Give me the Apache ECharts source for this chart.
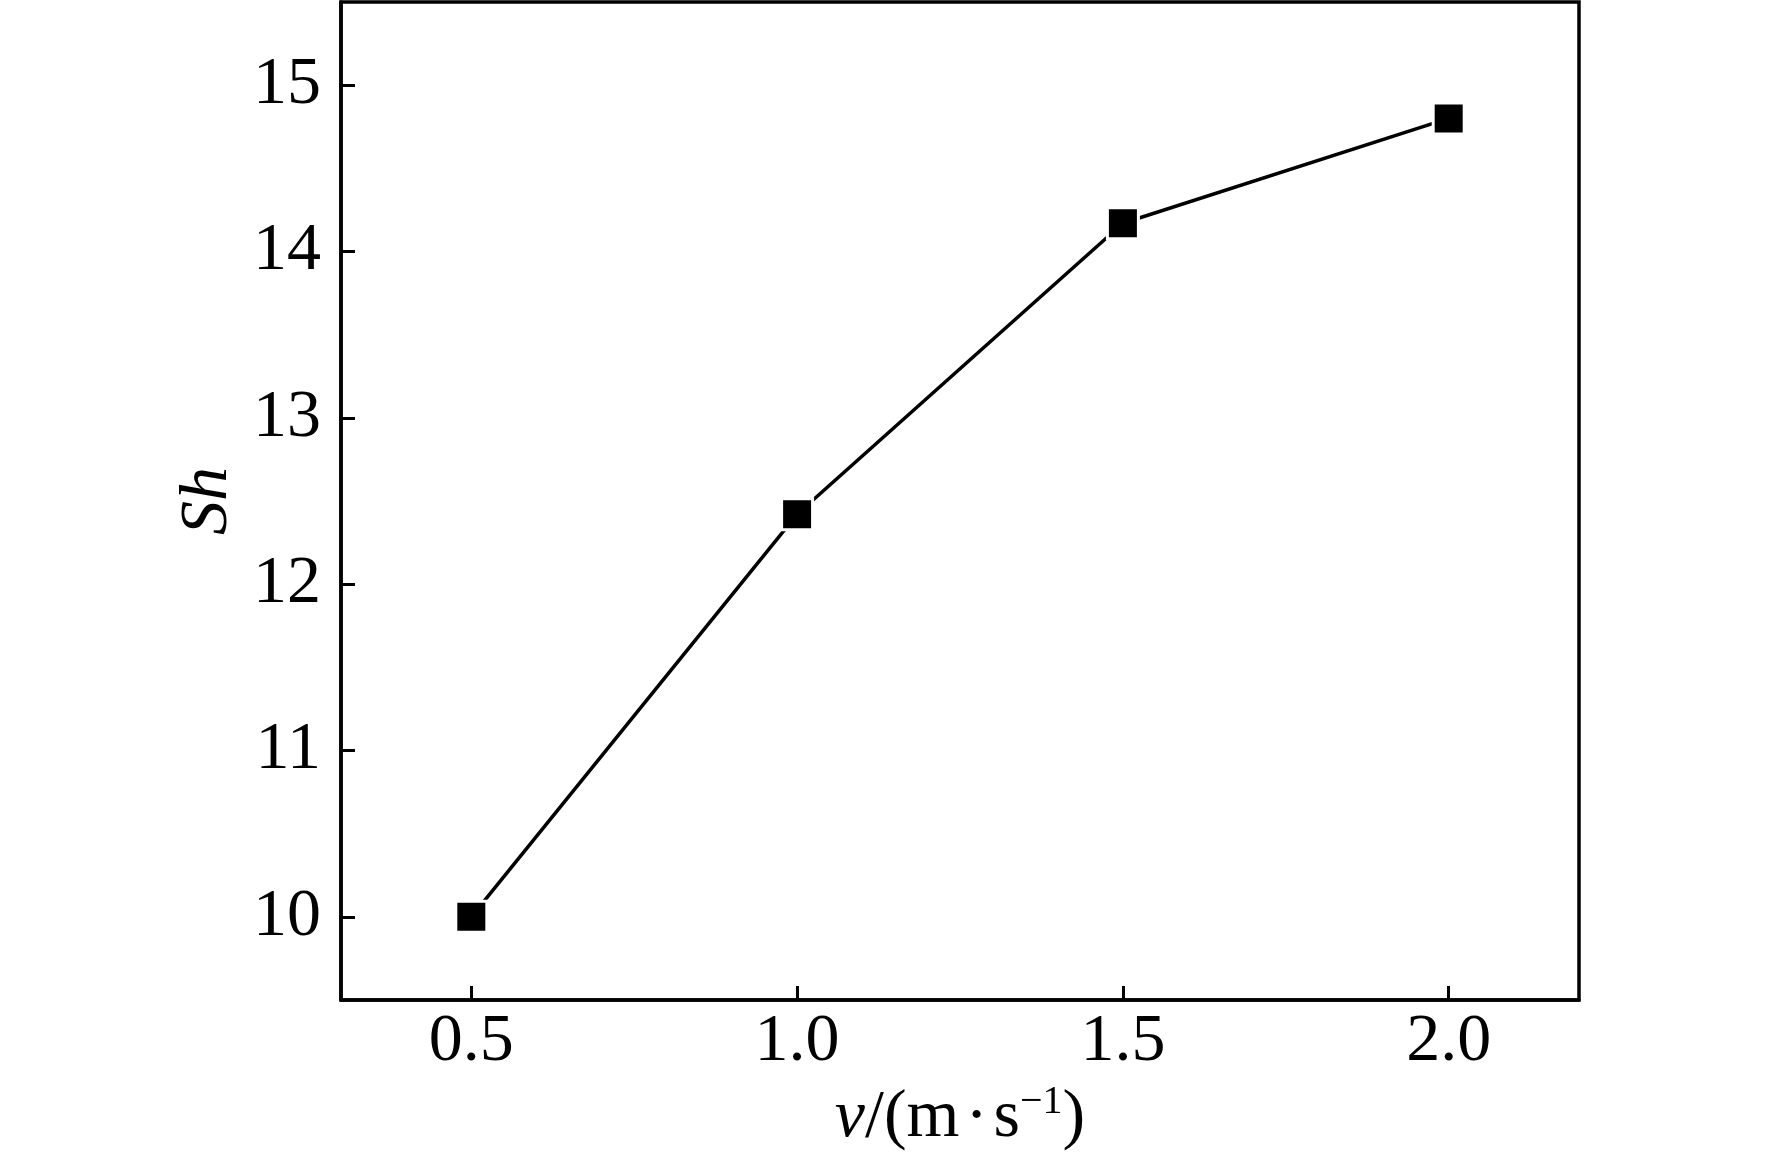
<!DOCTYPE html>
<html>
<head>
<meta charset="utf-8">
<style>
  html, body { margin: 0; padding: 0; background: #fff; }
  #chart { width: 1772px; height: 1157px; }
</style>
<script src="https://cdn.jsdelivr.net/npm/echarts@6/dist/echarts.min.js"></script>
</head>
<body>
<div id="chart"></div>
<script>
// v / (m·s^-1)
const velocity = [0.5, 1.0, 1.5, 2.0]
// Sherwood number
const sh = [10.0, 12.42, 14.17, 14.80]
const yTicks = [10, 11, 12, 13, 14, 15]

const font = '"Liberation Serif", "Times New Roman", Times, serif'

const chart = echarts.init(document.getElementById('chart'))
chart.setOption({
  animation: false,
  backgroundColor: '#fff',
  grid: {
    left: 341,
    right: 193,
    top: 2,
    bottom: 148,
    show: true,
    borderColor: '#000',
    borderWidth: 3.5
  },
  xAxis: {
    type: 'value',
    min: 0.3,
    max: 2.2,
    name: '{i|v}{n|/(m\u200a\u00b7\u200as}{s|−1}{n|)}',
    nameLocation: 'middle',
    nameGap: 82,
    nameTextStyle: {
      rich: {
        i: { fontFamily: font, fontStyle: 'italic', fontSize: 68, color: '#000', lineHeight: 72 },
        n: { fontFamily: font, fontSize: 68, color: '#000', lineHeight: 72 },
        s: { fontFamily: font, fontSize: 40, color: '#000', verticalAlign: 'top', lineHeight: 72 }
      }
    },
    axisLine: { onZero: false, lineStyle: { color: '#000', width: 3.5 } },
    axisTick: { inside: true, length: 14, lineStyle: { color: '#000', width: 3 }, customValues: velocity },
    axisLabel: {
      fontFamily: font,
      fontSize: 68,
      color: '#000',
      margin: 8,
      customValues: velocity,
      formatter: (v) => v.toFixed(1)
    },
    splitLine: { show: false }
  },
  yAxis: {
    type: 'value',
    min: 9.5,
    max: 15.5,
    name: 'Sh',
    nameLocation: 'middle',
    nameGap: 66,
    nameRotate: 90,
    nameTextStyle: { fontFamily: font, fontStyle: 'italic', fontSize: 68, color: '#000' },
    axisLine: { onZero: false, lineStyle: { color: '#000', width: 3.5 } },
    axisTick: { inside: true, length: 14, lineStyle: { color: '#000', width: 3 }, customValues: yTicks },
    axisLabel: {
      fontFamily: font,
      fontSize: 68,
      color: '#000',
      margin: 20,
      customValues: yTicks
    },
    splitLine: { show: false }
  },
  series: [
    {
      type: 'line',
      data: velocity.map((v, i) => [v, sh[i]]),
      symbol: 'rect',
      symbolSize: 31,
      showAllSymbol: true,
      lineStyle: { color: '#000', width: 3.5 },
      itemStyle: { color: '#000', borderColor: '#fff', borderWidth: 3 },
      z: 3
    }
  ]
})
</script>
</body>
</html>
